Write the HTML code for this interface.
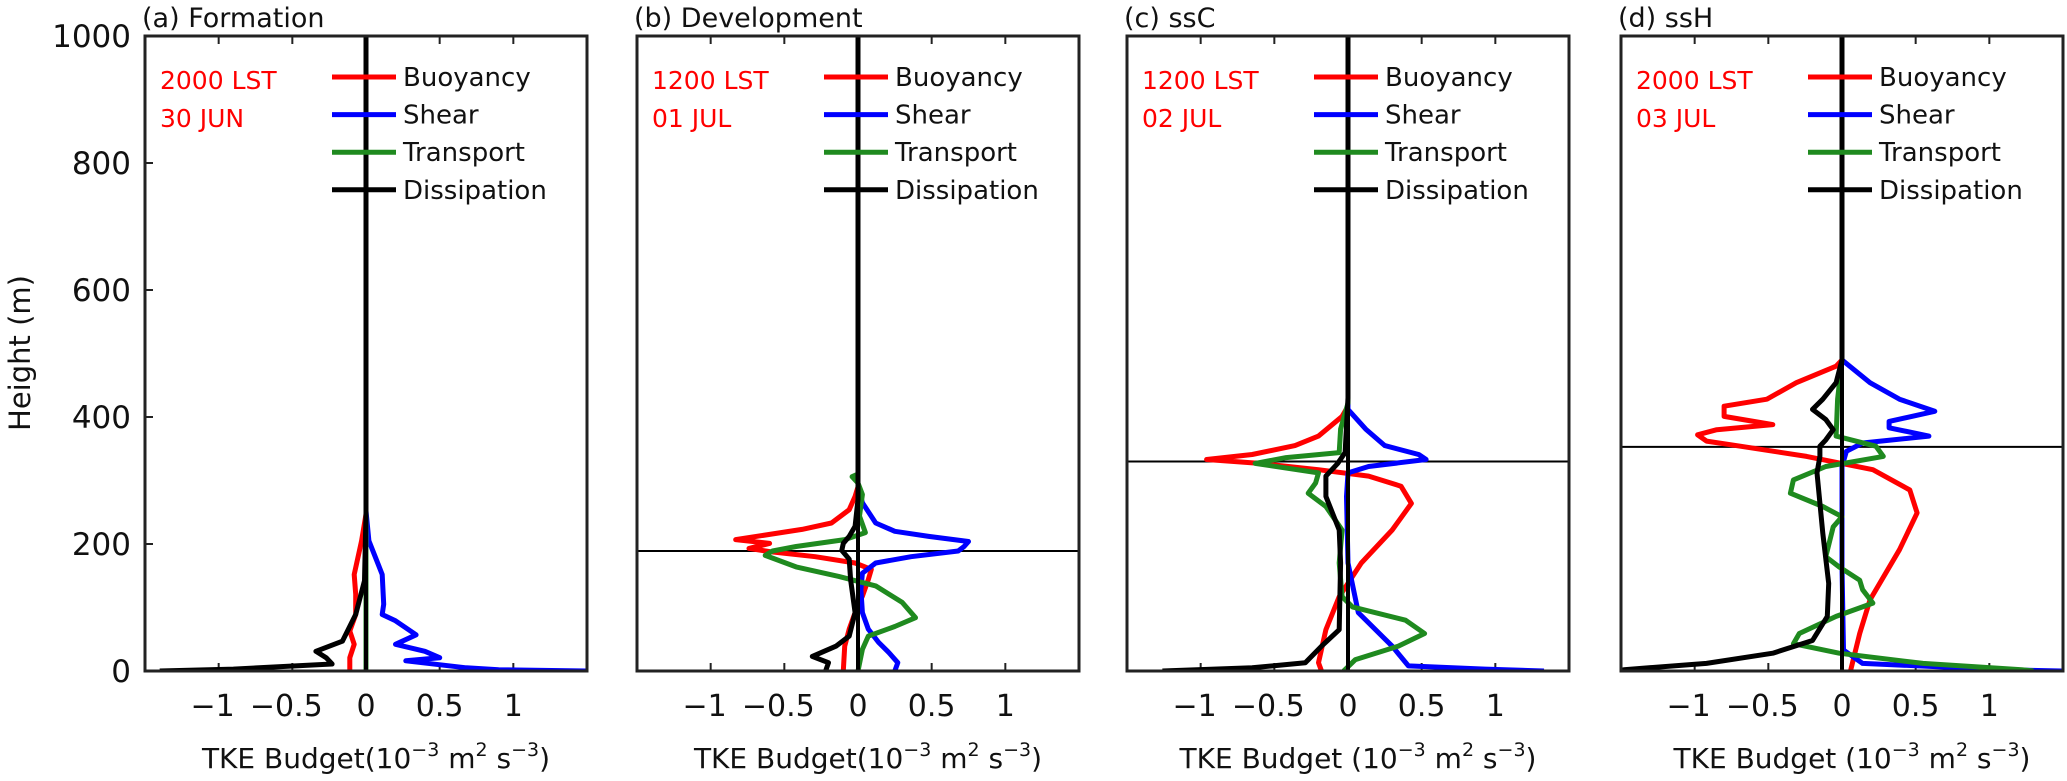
<!DOCTYPE html>
<html><head><meta charset="utf-8"><style>
body{margin:0;background:#fff;}
svg{display:block;font-family:"DejaVu Sans","Liberation Sans",sans-serif;}
</style></head><body>
<svg id="chart" width="2067" height="781" viewBox="0 0 2067 781" xmlns="http://www.w3.org/2000/svg"></svg>
<script>
// ---- data: heights (m) and TKE budget values (1e-3 m2 s-3) ----
const panelTitles = ["(a) Formation","(b) Development","(c) ssC","(d) ssH"];
const panelTimes = ["2000 LST","1200 LST","1200 LST","2000 LST"];
const panelDates = ["30 JUN","01 JUL","02 JUL","03 JUL"];
const pblHeights = [null, 189, 330, 353];
const xTicks = [-1,-0.5,0,0.5,1];
const xTickLabels = ["\u22121","\u22120.5","0","0.5","1"];
const yTicks = [0,200,400,600,800,1000];
const seriesNames = ["Buoyancy","Shear","Transport","Dissipation"];

const aBuoyH=[1000,247,205,152,121,89,63,42,21,0];
const aBuoyV=[0,0,-0.03,-0.08,-0.07,-0.07,-0.11,-0.08,-0.11,-0.11];
const aShearH=[1000,252,205,152,105,89,79,57,42,31,21,16,5,2,0];
const aShearV=[0,0,0.02,0.11,0.12,0.11,0.2,0.34,0.2,0.4,0.5,0.27,0.68,0.9,1.5];
const aTransH=[1000,300,0];
const aTransV=[0,0,0];
const aDissH=[1000,250,142,89,47,31,21,11,3,0];
const aDissV=[0,0,-0.01,-0.07,-0.16,-0.34,-0.27,-0.23,-0.9,-1.4];

const bBuoyH=[1000,290,275,254,233,223,207,201,193,188,180,170,160,144,118,92,66,39,0];
const bBuoyV=[0,0,-0.02,-0.06,-0.18,-0.38,-0.83,-0.6,-0.74,-0.6,-0.29,-0.02,0.09,0.07,0.03,-0.02,-0.06,-0.09,-0.1];
const bShearH=[1000,290,265,233,220,212,204,196,189,180,170,154,128,92,66,45,29,13,0];
const bShearV=[0,0,0.03,0.12,0.25,0.48,0.75,0.72,0.68,0.36,0.12,0.03,0.02,0.03,0.07,0.14,0.21,0.27,0.25];
const bTransH=[1000,310,306,296,278,244,218,207,196,189,182,164,149,134,108,84,70,55,34,0];
const bTransV=[0,0,-0.04,0,0.03,0.01,0.05,-0.09,-0.42,-0.58,-0.63,-0.42,-0.13,0.12,0.3,0.39,0.25,0.07,0.03,0];
const bDissH=[1000,270,228,212,201,190,176,144,92,55,39,23,13,0];
const bDissV=[0,0,-0.02,-0.06,-0.1,-0.11,-0.06,-0.05,-0.02,-0.06,-0.15,-0.31,-0.2,-0.22];

const cBuoyH=[1000,417,401,370,355,341,333,327,317,307,291,264,222,170,117,65,13,0];
const cBuoyV=[0,0,-0.04,-0.2,-0.36,-0.65,-0.96,-0.6,-0.2,0.14,0.36,0.43,0.3,0.09,-0.06,-0.15,-0.2,-0.18];
const cShearH=[1000,412,381,355,341,333,322,312,275,170,92,39,8,3,0];
const cShearV=[0,0,0.12,0.25,0.48,0.53,0.14,0,-0.01,0,0.07,0.3,0.41,0.93,1.33];
const cTransH=[1000,422,381,344,336,327,312,296,280,259,222,170,117,101,80,59,39,18,0];
const cTransV=[0,0,-0.05,-0.06,-0.42,-0.63,-0.2,-0.22,-0.27,-0.15,-0.04,-0.06,-0.04,0.03,0.39,0.52,0.34,0.05,-0.03];
const cDissH=[1000,430,344,327,307,275,222,170,65,39,13,5,0];
const cDissV=[0,0,-0.02,-0.07,-0.15,-0.15,-0.06,-0.05,-0.06,-0.18,-0.29,-0.65,-1.26];

const dBuoyH=[1000,490,480,454,428,417,401,388,380,372,362,354,338,317,285,249,191,112,59,2,0];
const dBuoyV=[0,0,-0.04,-0.31,-0.51,-0.8,-0.8,-0.47,-0.85,-0.98,-0.92,-0.69,-0.24,0.21,0.46,0.51,0.39,0.19,0.12,0.06,0.06];
const dShearH=[1000,490,454,428,409,393,383,370,359,346,322,164,33,12,2,0];
const dShearV=[0,0,0.19,0.39,0.63,0.32,0.32,0.59,0.14,0.03,0,0,0.01,0.14,1.1,1.49];
const dTransH=[1000,490,428,370,354,338,322,301,280,259,243,227,180,164,143,128,107,86,59,43,28,12,2,0];
const dTransV=[0,0,-0.03,-0.04,0.23,0.28,-0.11,-0.33,-0.35,-0.13,0,-0.06,-0.11,-0.02,0.12,0.14,0.21,-0.04,-0.29,-0.33,-0.02,0.55,1.22,1.3];
const dDissH=[1000,490,454,428,412,396,380,364,354,338,312,217,138,86,48,28,12,2,0];
const dDissV=[0,0,-0.04,-0.13,-0.2,-0.11,-0.06,-0.11,-0.15,-0.15,-0.17,-0.13,-0.09,-0.1,-0.2,-0.47,-0.92,-1.48,-1.5];

const panelSeries = [
 [[aBuoyH,aBuoyV],[aShearH,aShearV],[aTransH,aTransV],[aDissH,aDissV]],
 [[bBuoyH,bBuoyV],[bShearH,bShearV],[bTransH,bTransV],[bDissH,bDissV]],
 [[cBuoyH,cBuoyV],[cShearH,cShearV],[cTransH,cTransV],[cDissH,cDissV]],
 [[dBuoyH,dBuoyV],[dShearH,dShearV],[dTransH,dTransV],[dDissH,dDissV]]
];
const colors = ["#ff0000","#0000ff","#1f8a1f","#000000"];
const panelLefts = [145,637,1127,1621];
const xlabels = ["TKE Budget(10","TKE Budget(10","TKE Budget (10","TKE Budget (10"];

const NS="http://www.w3.org/2000/svg";
const svg=document.getElementById('chart');
function mk(tag,attrs,parent){const e=document.createElementNS(NS,tag);for(const k in attrs)e.setAttribute(k,attrs[k]);(parent||svg).appendChild(e);return e;}
const TOP=36,BOT=671,W=442;
const yS=h=>BOT-(h/1000)*(BOT-TOP);

panelLefts.forEach((L,p)=>{
  const xS=v=>L+(v+1.5)/3*W;
  const g=mk('g',{});
  
  
  const cp=mk('clipPath',{id:'clip'+p},g);
  mk('rect',{x:L,y:TOP,width:W,height:BOT-TOP},cp);
  const t=mk('text',{x:L-3,y:27,'font-size':27,fill:'#111'},g);t.textContent=panelTitles[p];
  
  
  xTicks.forEach((v,i)=>{
    mk('line',{x1:xS(v),x2:xS(v),y1:BOT,y2:BOT-8,stroke:'#222','stroke-width':2},g);
    mk('line',{x1:xS(v),x2:xS(v),y1:TOP,y2:TOP+8,stroke:'#222','stroke-width':2},g);
    const tl=mk('text',{x:xS(v)+(v<0?-6:0),y:716,'font-size':30,'text-anchor':'middle',fill:'#111'},g);tl.textContent=xTickLabels[i];
    
    
  });
  if(p===0){
    yTicks.forEach(v=>{
      mk('line',{x1:L,x2:L+8,y1:yS(v),y2:yS(v),stroke:'#222','stroke-width':2},g);
      const yl=mk('text',{x:L-14,y:yS(v)+11,'font-size':31,'text-anchor':'end',fill:'#111'},g);yl.textContent=v;
      
      
    });
  }
  const xl=mk('text',{x:L+W/2+10,y:768,'font-size':28,'text-anchor':'middle',fill:'#111'},g);
  xl.innerHTML=xlabels[p]+'<tspan dy="-12" font-size="19">\u22123</tspan><tspan dy="12"> m</tspan><tspan dy="-12" font-size="19">2</tspan><tspan dy="12"> s</tspan><tspan dy="-12" font-size="19">\u22123</tspan><tspan dy="12">)</tspan>';
  
  
  if(pblHeights[p]!==null){
    const pl=mk('line',{x1:L,x2:L+W,y1:yS(pblHeights[p]),y2:yS(pblHeights[p]),stroke:'#000','stroke-width':2},g);
    
    
  }
  const sg=mk('g',{'clip-path':'url(#clip'+p+')'},g);
  panelSeries[p].forEach((s,k)=>{
    const [H,V]=s;
    const d=H.map((h,i)=>(i?'L':'M')+xS(V[i]).toFixed(1)+' '+yS(h).toFixed(1)).join(' ');
    const path=mk('path',{d:d,fill:'none',stroke:colors[k],'stroke-width':5,'stroke-linejoin':'round'},sg);
    
    
  });
  mk('line',{x1:xS(0),x2:xS(0),y1:TOP,y2:BOT,stroke:'#000','stroke-width':4},g);
  seriesNames.forEach((n,k)=>{
    const y=77+k*37.6;
    const ll=mk('line',{x1:L+187,x2:L+251,y1:y,y2:y,stroke:colors[k],'stroke-width':5},g);
    
    
    const lt=mk('text',{x:L+258,y:y+9,'font-size':26,fill:'#111'},g);lt.textContent=n;
    
    
  });
  const d1=mk('text',{x:L+15,y:89,'font-size':25,fill:'#ff0000'},g);d1.textContent=panelTimes[p];
  
  
  const d2=mk('text',{x:L+15,y:127,'font-size':25,fill:'#ff0000'},g);d2.textContent=panelDates[p];
  
  
  const bx=mk('rect',{x:L,y:TOP,width:W,height:BOT-TOP,fill:'none',stroke:'#222','stroke-width':3},g);
  
  
});
const yt=mk('text',{x:0,y:0,'font-size':29,'text-anchor':'middle',fill:'#111',transform:'translate(30,353) rotate(-90)'});
yt.textContent='Height (m)';


</script>
</body></html>
